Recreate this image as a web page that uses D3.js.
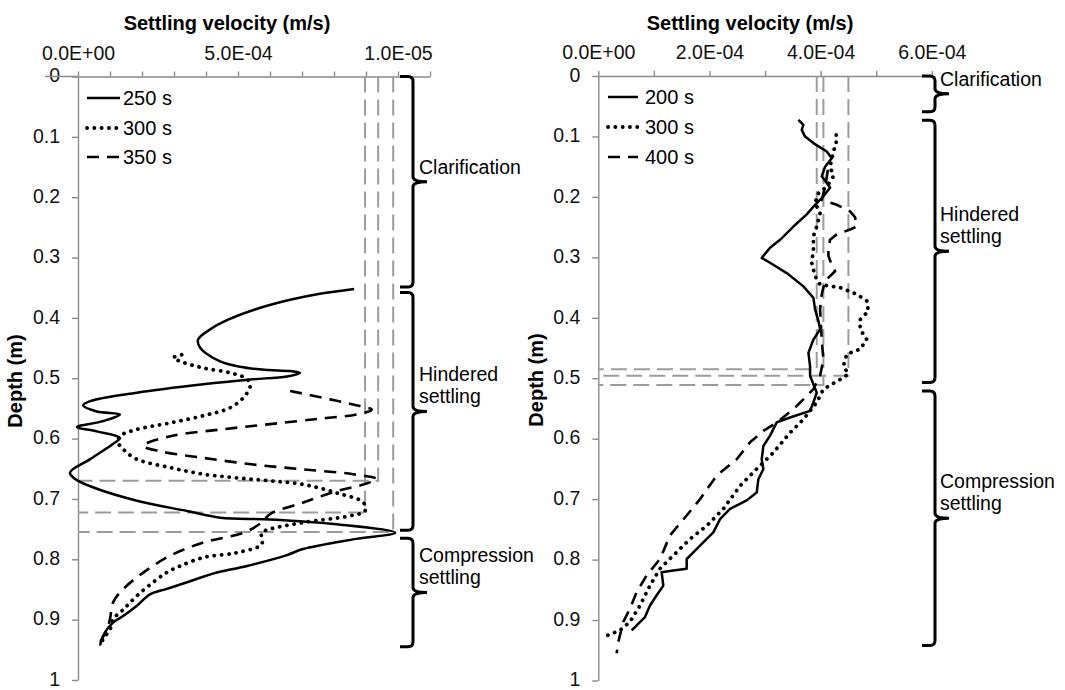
<!DOCTYPE html>
<html><head><meta charset="utf-8">
<script src="https://cdn.jsdelivr.net/npm/d3@7"></script>
<style>
html,body{margin:0;padding:0;background:#fff;}
svg{display:block;font-family:"Liberation Sans",Arial,sans-serif;}
</style></head>
<body>
<svg id="c" width="1065" height="690"></svg>
<script>
// ---------- DATA (velocity in units of 1e-4 m/s, depth in m) ----------
const depthTicks = [0,0.1,0.2,0.3,0.4,0.5,0.6,0.7,0.8,0.9,1];
const depthTickLabels = ["0","0.1","0.2","0.3","0.4","0.5","0.6","0.7","0.8","0.9","1"];

const leftVelTicks = [0,1,2,3,4,5,6,7,8,9,10,11];
const leftVelLabelValues = [0,5,10];
const leftVelLabels = ["0.0E+00","5.0E-04","1.0E-05"];
const rightVelTicks = [0,1,2,3,4,5,6];
const rightVelLabelValues = [0,2,4,6];
const rightVelLabels = ["0.0E+00","2.0E-04","4.0E-04","6.0E-04"];

const leftLegend = ["250 s","300 s","350 s"];
const rightLegend = ["200 s","300 s","400 s"];

// [depth, velocity]
const left250 = [[.352,8.63],[.360,7.56],[.370,6.63],[.386,5.53],[.403,4.69],[.419,4.13],[.436,3.75],[.449,3.81],[.460,4.03],[.472,4.44],[.481,5.06],[.486,5.84],[.488,6.63],[.491,6.94],[.497,6.53],[.502,5.38],[.510,3.91],[.524,1.84],[.538,0.38],[.545,0.16],[.555,0.59],[.560,1.31],[.571,0.78],[.581,-0.03],[.588,0.59],[.599,1.31],[.609,1.09],[.634,0.38],[.656,-0.25],[.667,-0.09],[.679,0.38],[.703,1.84],[.720,3.41],[.731,4.44],[.734,6.0],[.742,8.09],[.756,9.91],[.767,8.59],[.783,7.03],[.793,6.53],[.811,5.28],[.822,4.34],[.838,3.41],[.849,2.78],[.858,2.25],[.877,1.84],[.894,1.41],[.905,1.09],[.927,0.78],[.943,0.69]];
const left300 = [[.461,3.24],[.466,2.98],[.474,3.30],[.483,3.92],[.491,4.75],[.501,5.27],[.513,5.38],[.532,5.17],[.549,4.75],[.562,3.92],[.574,2.88],[.585,1.83],[.596,1.31],[.607,1.26],[.618,1.42],[.634,1.83],[.648,2.88],[.659,3.92],[.665,4.96],[.670,6.0],[.676,7.04],[.690,8.08],[.706,8.92],[.720,8.97],[.728,8.5],[.739,7.04],[.750,6.0],[.756,5.74],[.775,5.74],[.789,4.96],[.797,3.92],[.811,3.19],[.822,2.77],[.838,2.35],[.861,1.83],[.883,1.42],[.899,1.10],[.916,1.0],[.932,0.79],[.943,0.69]];
const left350 = [[.521,6.63],[.535,7.88],[.546,8.81],[.552,9.18],[.560,8.71],[.567,7.56],[.576,6.0],[.585,4.44],[.596,2.88],[.612,2.04],[.621,2.56],[.632,3.92],[.643,5.48],[.651,7.04],[.659,8.6],[.667,9.33],[.676,8.92],[.687,8.08],[.706,7.04],[.725,6.0],[.739,5.74],[.756,5.17],[.772,3.92],[.794,2.88],[.822,2.04],[.849,1.42],[.871,1.10],[.899,1.0],[.916,0.90],[.938,0.69]];

const right200 = [[.0726,3.60],[.0809,3.69],[.0891,3.66],[.1002,3.72],[.111,3.87],[.125,4.11],[.136,4.20],[.150,4.08],[.166,4.02],[.177,4.11],[.185,4.17],[.199,4.05],[.213,3.90],[.229,3.75],[.249,3.51],[.271,3.27],[.284,3.09],[.301,2.94],[.309,3.09],[.326,3.39],[.348,3.69],[.367,3.87],[.386,3.90],[.405,3.96],[.419,3.99],[.436,3.87],[.458,3.78],[.480,3.81],[.496,3.81],[.510,3.87],[.524,3.93],[.540,3.87],[.554,3.81],[.565,3.45],[.573,3.21],[.595,3.09],[.612,2.97],[.634,2.94],[.650,2.97],[.667,2.88],[.689,2.85],[.702,2.67],[.716,2.37],[.733,2.19],[.755,2.07],[.777,1.83],[.788,1.71],[.799,1.59],[.815,1.59],[.818,1.35],[.821,1.14],[.843,1.17],[.859,1.05],[.876,0.93],[.895,0.84],[.909,0.69],[.917,0.60]];
const right300 = [[.0974,4.28],[.111,4.28],[.125,4.23],[.150,4.17],[.166,4.23],[.183,4.11],[.194,3.96],[.210,3.90],[.227,3.99],[.249,3.93],[.265,3.87],[.287,3.87],[.309,3.84],[.331,3.90],[.345,3.99],[.350,4.35],[.361,4.65],[.372,4.83],[.389,4.86],[.403,4.71],[.419,4.71],[.436,4.83],[.452,4.71],[.460,4.47],[.480,4.41],[.493,4.50],[.502,4.35],[.518,4.05],[.540,3.93],[.568,3.69],[.590,3.45],[.623,3.15],[.650,2.85],[.678,2.55],[.716,2.25],[.744,1.95],[.766,1.65],[.793,1.35],[.815,1.11],[.843,0.93],[.876,0.75],[.903,0.57],[.917,0.39],[.928,0.09]];
const right400 = [[.155,4.13],[.180,4.09],[.205,4.02],[.213,4.29],[.224,4.53],[.234,4.62],[.249,4.65],[.254,4.53],[.262,4.29],[.271,4.17],[.287,4.14],[.298,4.14],[.312,4.20],[.323,4.26],[.339,4.08],[.361,4.02],[.386,3.99],[.436,4.02],[.469,4.05],[.496,3.99],[.518,3.87],[.535,3.69],[.551,3.51],[.573,3.21],[.587,2.97],[.606,2.73],[.634,2.49],[.661,2.13],[.700,1.83],[.727,1.59],[.760,1.29],[.799,1.11],[.826,0.87],[.854,0.69],[.881,0.57],[.903,0.45],[.936,0.36],[.955,0.33]];

// critical points [depth, velocity] for gray dashed guides
const leftCritical = [[.7547,9.85],[.7226,8.97],[.670,9.38]];
const rightCritical = [[.485,3.93],[.496,4.50],[.511,4.05]];

// settling zones [top depth, bottom depth] and labels
const leftZones = [[0,.349],[.358,.752],[.765,.945]];
const rightZones = [[0,.059],[.073,.507],[.521,.942]];
const zoneLabels = [["Clarification"],["Hindered","settling"],["Compression","settling"]];

// ---------- DRAWING ----------
const svg = d3.select("#c");
const FONT = "'Liberation Sans', Arial, sans-serif";
const styles = [
  {dash:null, w:2.5, cap:"butt"},
  {dash:"0.1,7.2", w:3.8, cap:"round"},
  {dash:"12,8", w:2.6, cap:"butt"}
];

function panel(cfg){
  const g = svg.append("g");
  const x = d3.scaleLinear().domain(cfg.xDomain).range(cfg.xRange);
  const y = d3.scaleLinear().domain([0,1]).range(cfg.yRange);
  const axisColor = "#8a8a8a";

  const xa = d3.axisTop(x).tickValues(cfg.xTicks).tickSize(5).tickSizeOuter(0).tickPadding(12)
    .tickFormat(v => { const i = cfg.xLabelValues.indexOf(v); return i>=0 ? cfg.xLabels[i] : ""; });
  const gx = g.append("g").attr("transform",`translate(0,${y(0)})`).call(xa);
  const ya = d3.axisLeft(y).tickValues(depthTicks).tickSize(6).tickSizeOuter(0).tickPadding(12)
    .tickFormat((v,i)=>depthTickLabels[i]);
  const gy = g.append("g").attr("transform",`translate(${x(0)},0)`).call(ya);
  [gx,gy].forEach(a=>{
    a.selectAll("path,line").attr("stroke",axisColor).attr("stroke-width",1.4);
    a.selectAll("text").attr("fill","#111").style("font-family",FONT).style("font-size","19.5px");
  });
  gy.selectAll("text").attr("dy","0.27em");
  if (cfg.axisStub) {
    g.append("line").attr("x1",cfg.axisStub).attr("x2",x(0)).attr("y1",y(0)).attr("y2",y(0))
      .attr("stroke",axisColor).attr("stroke-width",1.4);
  }

  g.append("text").attr("x",(cfg.xRange[0]+cfg.xRange[1])/2 + cfg.titleDx).attr("y",30)
    .attr("text-anchor","middle").style("font-family",FONT).style("font-size","20px").style("font-weight","bold")
    .text("Settling velocity (m/s)");
  g.append("text").attr("transform",`translate(${cfg.yTitleX},${cfg.yTitleY}) rotate(-90)`)
    .attr("text-anchor","middle").style("font-family",FONT).style("font-size","20px").style("font-weight","bold")
    .text("Depth (m)");

  cfg.critical.forEach(c=>{
    const p = `M${x(c[1])},${y(0)}L${x(c[1])},${y(c[0])}L${x(0)},${y(c[0])}`;
    g.append("path").attr("d",p).attr("fill","none").attr("stroke","#9c9c9c")
      .attr("stroke-width",2).attr("stroke-dasharray","16,7");
  });

  const line = d3.line().x(d=>x(d[1])).y(d=>y(d[0])).curve(cfg.curve);
  cfg.series.forEach((s,i)=>{
    const st = styles[i];
    g.append("path").datum(s).attr("d",line).attr("fill","none").attr("stroke","#000")
      .attr("stroke-width",st.w).attr("stroke-linecap",st.cap).attr("stroke-linejoin","round")
      .attr("stroke-dasharray",st.dash);
  });

  cfg.legend.forEach((t,i)=>{
    const st = styles[i];
    const ly = cfg.legendY[i];
    g.append("line").attr("x1",cfg.legendX[0]).attr("x2",cfg.legendX[1]).attr("y1",ly).attr("y2",ly)
      .attr("stroke","#000").attr("stroke-width",st.w).attr("stroke-linecap",st.cap).attr("stroke-dasharray",st.dash);
    g.append("text").attr("x",cfg.legendX[1]+cfg.legendGap).attr("y",ly+7).style("font-family",FONT)
      .style("font-size","20px").text(t);
  });

  const bx = cfg.braceX, tip = 13, cusp = 14, r = 5;
  cfg.zones.forEach((z,zi)=>{
    const y0 = y(z[0]), y1 = y(z[1]), ym = (y0+y1)/2;
    const p = `M${bx-tip},${y0}L${bx-r},${y0}Q${bx},${y0} ${bx},${y0+r}L${bx},${ym-r}Q${bx},${ym} ${bx+cusp},${ym}`+
              `Q${bx},${ym} ${bx},${ym+r}L${bx},${y1-r}Q${bx},${y1} ${bx-r},${y1}L${bx-tip},${y1}`;
    g.append("path").attr("d",p).attr("fill","none").attr("stroke","#000").attr("stroke-width",3);
    const lines = zoneLabels[zi];
    lines.forEach((t,li)=>{
      g.append("text").attr("x",bx+cfg.labelDx).attr("y",ym-8-(lines.length-1-li)*22)
        .style("font-family",FONT).style("font-size","19.5px").text(t);
    });
  });
}

panel({
  xDomain:[0,11], xRange:[78,430], yRange:[76.5,680],
  xTicks:leftVelTicks, xLabelValues:leftVelLabelValues, xLabels:leftVelLabels,
  titleDx:-27, yTitleX:22, yTitleY:381, axisStub:45,
  critical:leftCritical, series:[left250,left300,left350], curve:d3.curveCatmullRom.alpha(0.5),
  legend:leftLegend, legendX:[87,120], legendGap:3, legendY:[98,128,157],
  zones:leftZones, braceX:413, labelDx:6
});
panel({
  xDomain:[0,6], xRange:[598.3,931.8], yRange:[76,680.5],
  xTicks:rightVelTicks, xLabelValues:rightVelLabelValues, xLabels:rightVelLabels,
  titleDx:-15, yTitleX:543, yTitleY:380, axisStub:null,
  critical:rightCritical, series:[right200,right300,right400], curve:d3.curveLinear,
  legend:rightLegend, legendX:[608,638], legendGap:7, legendY:[97,127,157],
  zones:rightZones, braceX:935, labelDx:5
});
</script>
</body></html>
